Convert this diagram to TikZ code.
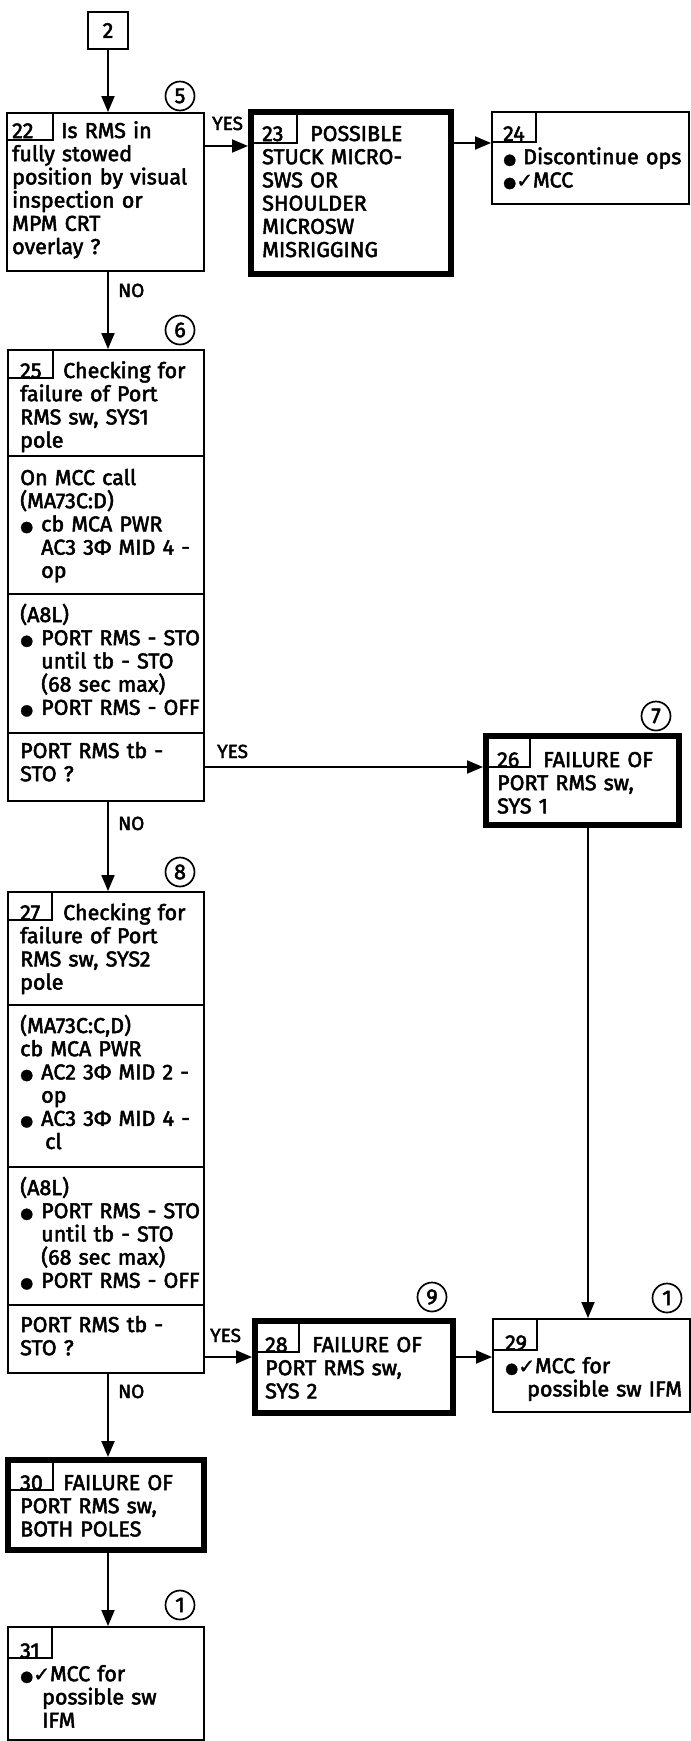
\documentclass[tikz,border=0pt]{standalone}
\usepackage{fontspec}
\setmainfont{Fira Sans}[FakeBold=2.4]
\newfontfamily\symfont{DejaVu Sans}[FakeBold=1.5]
\usetikzlibrary{arrows.meta}
\newcommand{\txtfont}{\fontsize{21.5}{23.2}\selectfont}
\newcommand{\bul}{\makebox[21pt][l]{\symfont\fontsize{15}{15}\selectfont ●}}
\newcommand{\bulx}{{\symfont\fontsize{15}{15}\selectfont ●}}
\newcommand{\chk}{\bulx{\symfont\fontsize{20}{20}\selectfont ✓}}
\newcommand{\ind}{\hspace*{21pt}}
\tikzset{
  x=1pt, y=-1pt,
  thinbox/.style={draw, line width=1.9pt, inner sep=0pt},
  thickbox/.style={draw, line width=6pt, inner sep=0pt},
  tabline/.style={line width=1.7pt},
  divline/.style={line width=1.9pt},
  arr/.style={line width=1.9pt, -{Triangle[length=16pt,width=13pt]}},
  circ/.style={draw, circle, minimum size=29pt, inner sep=0pt, line width=1.7pt, font=\txtfont},
  txt/.style={anchor=base west, inner sep=0pt, text width=200pt, align=left, font=\txtfont},
  lbl/.style={anchor=base west, inner sep=0pt, font=\fontsize{19}{19}\selectfont},
}
\begin{document}
\begin{tikzpicture}
\useasboundingbox (0,0) rectangle (691,1741);
\fill[white] (0,0) rectangle (691,1741);
% boxes
\node[thinbox, minimum width=40pt, minimum height=37pt, font=\txtfont] (b2) at (108,30.5) {2};
\node[thinbox, minimum width=197pt, minimum height=158pt] (b22) at (105.5,192) {};
\node[thickbox, minimum width=200pt, minimum height=162pt] (b23) at (351,193) {};
\node[thinbox, minimum width=197pt, minimum height=92pt] (b24) at (590.5,158) {};
\node[thinbox, minimum width=196pt, minimum height=451pt] (b25) at (106,575.5) {};
\node[thickbox, minimum width=193pt, minimum height=89pt] (b26) at (582.5,780.5) {};
\node[thinbox, minimum width=196pt, minimum height=481pt] (b27) at (106,1132.5) {};
\node[thickbox, minimum width=198pt, minimum height=92pt] (b28) at (354,1367) {};
\node[thinbox, minimum width=197pt, minimum height=93pt] (b29) at (591.5,1365.5) {};
\node[thickbox, minimum width=196pt, minimum height=90pt] (b30) at (106,1505) {};
\node[thinbox, minimum width=196pt, minimum height=113pt] (b31) at (106,1683.5) {};
% tabs
\draw[tabline] (7,140) -| (53,113);
\draw[tabline] (254,143) -| (297,115);
\draw[tabline] (492,142) -| (536,112);
\draw[tabline] (8,378) -| (53,350);
\draw[tabline] (489,767) -| (530,739);
\draw[tabline] (8,920) -| (52,892);
\draw[tabline] (258,1352) -| (299,1324);
\draw[tabline] (493,1350) -| (537,1319);
\draw[tabline] (11,1490) -| (53,1463);
\draw[tabline] (8,1658) -| (52,1627);
% dividers
\draw[divline] (8,456) -- (204,456);
\draw[divline] (8,594) -- (204,594);
\draw[divline] (8,733) -- (204,733);
\draw[divline] (8,1005) -- (204,1005);
\draw[divline] (8,1167) -- (204,1167);
\draw[divline] (8,1305) -- (204,1305);
% circles
\node[circ] (c5) at (180,96) {5};
\node[circ] (c6) at (180,330) {6};
\node[circ] (c7) at (656,716) {7};
\node[circ] (c8) at (180,872) {8};
\node[circ] (c9) at (432,1297) {9};
\node[circ] (c1a) at (667,1298) {1};
\node[circ] (c1b) at (180,1605) {1};
% texts
\node[txt] (t22) at (12,138) {\makebox[49pt][l]{22}Is RMS in\\fully stowed\\position by visual\\inspection or\\MPM CRT\\overlay ?};
\node[txt] (t23) at (262,141) {\makebox[48pt][l]{23}POSSIBLE\\STUCK MICRO-\\SWS OR\\SHOULDER\\MICROSW\\MISRIGGING};
\node[txt, text width=180pt] (t24) at (503,141) {24\\\makebox[20pt][l]{\bulx}Discontinue ops\\\chk MCC};
\node[txt] (t25a) at (20,378) {\makebox[43pt][l]{25}Checking for\\failure of Port\\RMS sw, SYS1\\pole};
\node[txt] (t25b) at (20,485) {On MCC call\\(MA73C:D)\\\bul cb MCA PWR\\\ind AC3 3Φ MID 4 -\\\ind op};
\node[txt] (t25c) at (20,622) {(A8L)\\\bul PORT RMS - STO\\\ind until tb - STO\\\ind (68 sec max)\\\bul PORT RMS - OFF};
\node[txt] (t25d) at (20,758) {PORT RMS tb -\\STO ?};
\node[txt, text width=185pt] (t26) at (497,767) {\makebox[46pt][l]{26}FAILURE OF\\PORT RMS sw,\\SYS 1};
\node[txt] (t27a) at (20,920) {\makebox[43pt][l]{27}Checking for\\failure of Port\\RMS sw, SYS2\\pole};
\node[txt] (t27b) at (20,1033) {(MA73C:C,D)\\cb MCA PWR\\\bul AC2 3Φ MID 2 -\\\ind op\\\bul AC3 3Φ MID 4 -\\\ind\hspace*{4pt}cl};
\node[txt] (t27c) at (20,1195) {(A8L)\\\bul PORT RMS - STO\\\ind until tb - STO\\\ind (68 sec max)\\\bul PORT RMS - OFF};
\node[txt] (t27d) at (20,1332) {PORT RMS tb -\\STO ?};
\node[txt] (t28) at (265,1352) {\makebox[47pt][l]{28}FAILURE OF\\PORT RMS sw,\\SYS 2};
\node[txt, text width=180pt] (t29) at (505,1350) {29\\\chk MCC for\\\hspace*{22pt}possible sw IFM};
\node[txt] (t30) at (20,1490) {\makebox[43pt][l]{30}FAILURE OF\\PORT RMS sw,\\BOTH POLES};
\node[txt] (t31) at (20,1658) {31\\\chk MCC for\\\hspace*{22pt}possible sw\\\hspace*{22pt}IFM};
% labels
\node[lbl] (yes1) at (212,130) {YES};
\node[lbl] (no1) at (118,297) {NO};
\node[lbl] (yes2) at (217,758) {YES};
\node[lbl] (no2) at (118,830) {NO};
\node[lbl] (yes3) at (210,1342) {YES};
\node[lbl] (no3) at (118,1398) {NO};
% connectors
\coordinate (vx) at (108,0);
\coordinate (ya) at (0,146);
\coordinate (yb) at (0,143);
\coordinate (yc) at (0,767);
\coordinate (yd) at (0,1357);
\coordinate (vr) at (588,0);
\draw[arr] (b2.south) -- (b22.north -| b2.south);
\draw[arr] (b22.south -| vx) -- (b25.north -| vx);
\draw[arr] (b25.south -| vx) -- (b27.north -| vx);
\draw[arr] (b27.south -| vx) -- (b30.north -| vx);
\draw[arr] (b30.south -| vx) -- (b31.north -| vx);
\draw[arr] (b22.east |- ya) -- (b23.west |- ya);
\draw[arr] (b23.east |- yb) -- (b24.west |- yb);
\draw[arr] (b25.east |- yc) -- (b26.west |- yc);
\draw[arr] (b26.south -| vr) -- (b29.north -| vr);
\draw[arr] (b27.east |- yd) -- (b28.west |- yd);
\draw[arr] (b28.east |- yd) -- (b29.west |- yd);
\end{tikzpicture}
\end{document}
